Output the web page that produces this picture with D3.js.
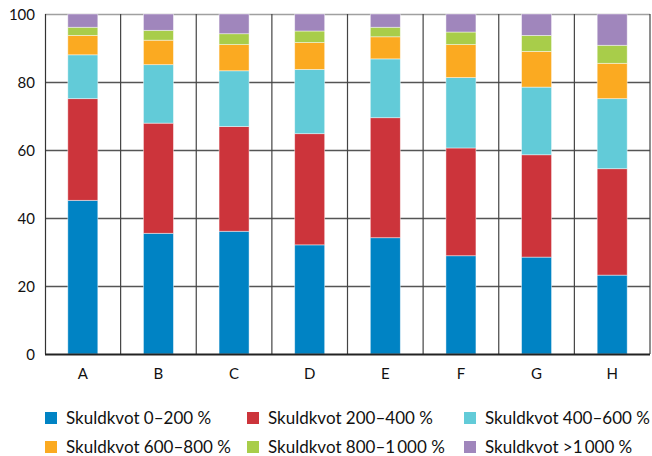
<!DOCTYPE html>
<html><head><meta charset="utf-8">
<script src="https://cdn.jsdelivr.net/npm/d3@7"></script>
<style>body{margin:0;background:#fff}svg{display:block}text{font-family:"Lato","Open Sans",sans-serif}</style>
</head><body><svg id="c" width="652" height="456"></svg>
<script>
const categories = ["A","B","C","D","E","F","G","H"];
const seriesNames = ["Skuldkvot 0\u2013200 %","Skuldkvot 200\u2013400 %","Skuldkvot 400\u2013600 %","Skuldkvot 600\u2013800 %","Skuldkvot 800\u20131\u2009000 %","Skuldkvot >1\u2009000 %"];
const s0_200   = [45.2, 35.5, 36.1, 32.1, 34.2, 28.9, 28.5, 23.2];
const s200_400 = [29.9, 32.4, 30.8, 32.7, 35.3, 31.7, 30.1, 31.3];
const s400_600 = [12.9, 17.2, 16.4, 18.9, 17.3, 20.7, 19.9, 20.6];
const s600_800 = [5.7, 7.2, 7.7, 7.9, 6.5, 9.7, 10.5, 10.4];
const s800_1000= [2.4, 2.9, 3.2, 3.4, 2.8, 3.7, 4.7, 5.3];
const s1000    = [3.9, 4.8, 5.8, 5.0, 3.9, 5.3, 6.3, 9.2];
const yTicks = [0,20,40,60,80,100];
const colors = ["#0083c4","#cc343b","#62cbd8","#fbaa21","#a8cd4a","#a086bc"];

const allSeries = [s0_200,s200_400,s400_600,s600_800,s800_1000,s1000];
const keys = seriesNames;
const rows = categories.map((c,i)=>{const r={cat:c};keys.forEach((k,j)=>r[k]=allSeries[j][i]);return r;});
const stacked = d3.stack().keys(keys)(rows);

const svg = d3.select("#c");
const L=45, R=650, T=14, B=354;
const x = d3.scaleBand().domain(categories).range([L,R]).paddingInner(0).paddingOuter(0);
const y = d3.scaleLinear().domain([0,100]).range([B,T]);

// horizontal grid
svg.append("g").selectAll("line").data(yTicks.filter(t=>t>0)).join("line")
  .attr("x1",L).attr("x2",R).attr("y1",d=>y(d)+0.5).attr("y2",d=>y(d)+0.5)
  .attr("stroke",d=>d===100?"#a0a0a0":"#555").attr("stroke-width",1.3);
// vertical grid
svg.append("g").selectAll("line").data(categories.slice(1).concat(["_end"])).join("line")
  .attr("x1",d=>d==="_end"?R:x(d)).attr("x2",d=>d==="_end"?R:x(d))
  .attr("y1",T).attr("y2",B).attr("stroke","#444").attr("stroke-width",1.2);

// bars
const bw = 30;
svg.append("g").selectAll("g").data(stacked).join("g")
  .attr("fill",(d,i)=>colors[i])
  .selectAll("rect").data(d=>d).join("rect")
  .attr("x",d=>x(d.data.cat)+x.bandwidth()/2-bw/2)
  .attr("width",bw)
  .attr("y",d=>y(d[1]))
  .attr("height",d=>y(d[0])-y(d[1]))
  .attr("stroke","rgba(255,255,255,0.55)").attr("stroke-width",0.8);

// y axis line
svg.append("line").attr("x1",L+0.5).attr("x2",L+0.5).attr("y1",T).attr("y2",B).attr("stroke","#333").attr("stroke-width",1.2);
// x axis line
svg.append("line").attr("x1",L).attr("x2",R).attr("y1",B+0.5).attr("y2",B+0.5).attr("stroke","#222").attr("stroke-width",2);

// y labels
svg.append("g").selectAll("text").data(yTicks).join("text")
  .attr("x",35).attr("y",d=>y(d)+5.5).attr("text-anchor","end")
  .attr("font-size",15).attr("fill","#111").text(d=>d);
// x labels
svg.append("g").selectAll("text").data(categories).join("text")
  .attr("x",d=>x(d)+x.bandwidth()/2).attr("y",379).attr("text-anchor","middle")
  .attr("font-size",15).attr("fill","#111").text(d=>d);

// legend
const legX=[45,247,464], legY=[412,441];
const lg = svg.append("g").selectAll("g").data(keys).join("g")
  .attr("transform",(d,i)=>`translate(${legX[i%3]},${legY[Math.floor(i/3)]})`);
lg.append("rect").attr("width",12).attr("height",12).attr("fill",(d,i)=>colors[i]);
lg.append("text").attr("x",21).attr("y",12).attr("font-size",17).attr("fill","#111").text(d=>d);
</script></body></html>
